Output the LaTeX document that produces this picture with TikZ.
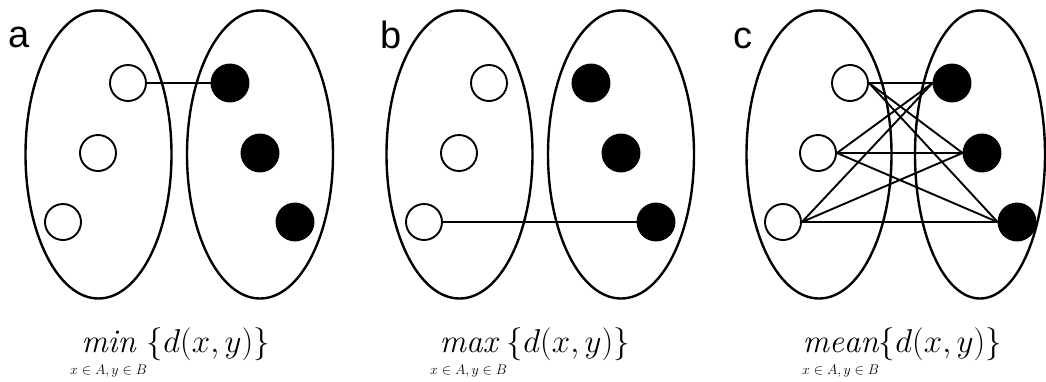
\RequirePackage{fix-cm}
\documentclass[tikz,border=0pt]{standalone}
\usepackage{amsmath}
\usepackage{exscale}
\usepackage{fontspec}
\usepackage{tikz}
\newfontfamily\tagfont{Liberation Sans}
\newcommand{\pairsub}{\mbox{\fontsize{14}{14}\selectfont\rule{0pt}{18pt}$x\in A,y\in B$}}

\begin{document}
\begin{tikzpicture}[x=1pt, y=-1pt,
  set/.style={line width=2.4pt},
  pnt/.style={circle, draw, line width=1.9pt, minimum size=36pt, inner sep=0pt},
  xpt/.style={pnt, fill=white},
  ypt/.style={pnt, fill=black, minimum size=37pt},
  link/.style={line width=1.9pt},
  tag/.style={font=\tagfont\fontsize{38}{40}\selectfont, anchor=base west, inner sep=0pt},
  eq/.style={font=\fontsize{33}{36}\selectfont, anchor=base west, inner sep=0pt}
]
  \useasboundingbox (0,0) rectangle (1046,381);

  % panel a: minimum distance
  \draw[set] (98.5,154.5) ellipse [x radius=73, y radius=144];
  \draw[set] (260,154.5) ellipse [x radius=73, y radius=144];
  \node[xpt] (a-x1) at (128,83) {};
  \node[xpt] (a-x2) at (98,153) {};
  \node[xpt] (a-x3) at (63,222) {};
  \node[ypt] (a-y1) at (230,83) {};
  \node[ypt] (a-y2) at (260,153) {};
  \node[ypt] (a-y3) at (295,222) {};
  \draw[link] (a-x1.east) -- (a-y1.west);
  \node[tag] (tag-a) at (8,47) {a};
  \node[eq] (eq-a) at (70,352) {$\mathop{\mathit{min}}\limits_{\pairsub}\{d(x,y)\}$};

  % panel b: maximum distance
  \draw[set] (459.5,154.5) ellipse [x radius=73, y radius=144];
  \draw[set] (621,154.5) ellipse [x radius=73, y radius=144];
  \node[xpt] (b-x1) at (489,83) {};
  \node[xpt] (b-x2) at (459,153) {};
  \node[xpt] (b-x3) at (424,222) {};
  \node[ypt] (b-y1) at (591,83) {};
  \node[ypt] (b-y2) at (621,153) {};
  \node[ypt] (b-y3) at (656,222) {};
  \draw[link] (b-x3.east) -- (b-y3.west);
  \node[tag] (tag-b) at (380,48) {b};
  \node[eq] (eq-b) at (430,352) {$\mathop{\mathit{max}}\limits_{\pairsub}\{d(x,y)\}$};

  % panel c: mean distance
  \draw[set] (819,154.5) ellipse [x radius=72.5, y radius=144];
  \draw[set] (980,154.5) ellipse [x radius=65, y radius=144];
  \node[xpt] (c-x1) at (850,83) {};
  \node[xpt] (c-x2) at (818,153) {};
  \node[xpt] (c-x3) at (783,222) {};
  \node[ypt] (c-y1) at (952,83) {};
  \node[ypt] (c-y2) at (982,153) {};
  \node[ypt] (c-y3) at (1017,222) {};
  \draw[link] (c-x1.east) -- (c-y1.west);
  \draw[link] (c-x1.east) -- (c-y2.west);
  \draw[link] (c-x1.east) -- (c-y3.west);
  \draw[link] (c-x2.east) -- (c-y1.west);
  \draw[link] (c-x2.east) -- (c-y2.west);
  \draw[link] (c-x2.east) -- (c-y3.west);
  \draw[link] (c-x3.east) -- (c-y1.west);
  \draw[link] (c-x3.east) -- (c-y2.west);
  \draw[link] (c-x3.east) -- (c-y3.west);
  \node[tag] (tag-c) at (733,48) {c};
  \node[eq] (eq-c) at (802,352) {$\mathop{\mathit{mean}}\limits_{\pairsub}\{d(x,y)\}$};
\end{tikzpicture}
\end{document}
